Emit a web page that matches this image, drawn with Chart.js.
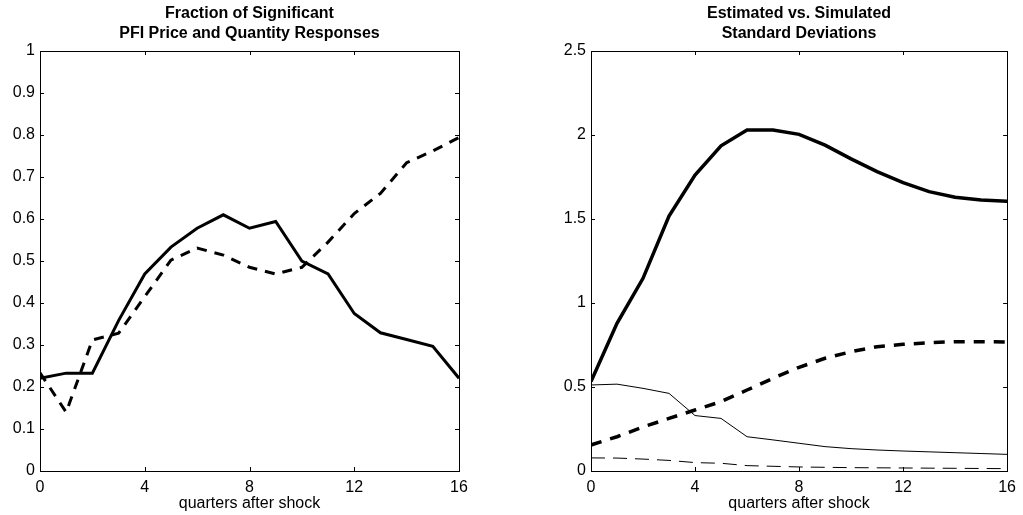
<!DOCTYPE html>
<html>
<head>
<meta charset="utf-8">
<script src="https://cdn.jsdelivr.net/npm/chart.js@4/dist/chart.umd.min.js"></script>
<style>
  html, body { margin: 0; padding: 0; background: #fff; }
  .panel { position: absolute; top: 0; height: 515px; }
  #left-panel { left: 0; width: 511px; }
  #right-panel { left: 511px; width: 512px; }
</style>
</head>
<body>
<div class="panel" id="left-panel"><canvas id="frac-chart" width="511" height="515"></canvas></div>
<div class="panel" id="right-panel"><canvas id="std-chart" width="512" height="515"></canvas></div>
<script>
// quarters after shock (x axis for both panels)
const QUARTERS = [0, 1, 2, 3, 4, 5, 6, 7, 8, 9, 10, 11, 12, 13, 14, 15, 16];
const X_TICKS = [0, 4, 8, 12, 16];

// left panel: fraction of significant responses
const FRAC_SOLID = [0.221, 0.233, 0.233, 0.358, 0.469, 0.533, 0.578, 0.610, 0.578, 0.594,
  0.500, 0.469, 0.375, 0.329, 0.313, 0.297, 0.221];
const FRAC_DASHED = [0.234, 0.140, 0.312, 0.328, 0.415, 0.502, 0.531, 0.514, 0.485, 0.469,
  0.485, 0.545, 0.613, 0.661, 0.734, 0.762, 0.794];
const LEFT_Y_TICKS = [0, 0.1, 0.2, 0.3, 0.4, 0.5, 0.6, 0.7, 0.8, 0.9, 1];

// right panel: estimated vs simulated standard deviations
const STD_THICK_SOLID = [0.532, 0.879, 1.147, 1.518, 1.762, 1.936, 2.030, 2.030, 2.004, 1.940,
  1.858, 1.782, 1.716, 1.663, 1.629, 1.613, 1.605];
const STD_THICK_DASHED = [0.155, 0.204, 0.262, 0.313, 0.363, 0.413, 0.482, 0.552, 0.617, 0.671,
  0.710, 0.740, 0.754, 0.764, 0.770, 0.770, 0.768];
const STD_THIN_SOLID = [0.512, 0.517, 0.492, 0.462, 0.330, 0.313, 0.204, 0.185, 0.165, 0.145,
  0.133, 0.125, 0.119, 0.114, 0.109, 0.104, 0.099];
const STD_THIN_DASHED = [0.078, 0.077, 0.071, 0.063, 0.050, 0.046, 0.032, 0.028, 0.024, 0.022,
  0.020, 0.019, 0.018, 0.017, 0.016, 0.015, 0.014];
const RIGHT_Y_TICKS = [0, 0.5, 1, 1.5, 2, 2.5];

Chart.defaults.font.family = '"Liberation Sans", Arial, Helvetica, sans-serif';
Chart.defaults.color = '#000';

function points(values) {
  return QUARTERS.map((q, i) => ({ x: q, y: values[i] }));
}

function line(values, width, dash) {
  return {
    data: points(values),
    borderColor: '#000',
    borderWidth: width,
    borderDash: dash,
    pointRadius: 0,
    tension: 0,
    fill: false,
  };
}

// box around the plot with short inward tick marks on all four sides
const boxPlugin = {
  id: 'matlabBox',
  afterDraw(chart) {
    const { ctx, chartArea: a, scales } = chart;
    const len = 4;
    ctx.save();
    ctx.strokeStyle = '#000';
    ctx.lineWidth = 1;
    ctx.beginPath();
    scales.x.ticks.forEach(t => {
      const px = Math.round(scales.x.getPixelForValue(t.value)) + 0.5;
      ctx.moveTo(px, a.bottom); ctx.lineTo(px, a.bottom - len);
      ctx.moveTo(px, a.top); ctx.lineTo(px, a.top + len);
    });
    scales.y.ticks.forEach(t => {
      const py = Math.round(scales.y.getPixelForValue(t.value)) + 0.5;
      ctx.moveTo(a.left, py); ctx.lineTo(a.left + len, py);
      ctx.moveTo(a.right, py); ctx.lineTo(a.right - len, py);
    });
    ctx.stroke();
    ctx.strokeRect(Math.round(a.left) + 0.5, Math.round(a.top) + 0.5,
      Math.round(a.right - a.left), Math.round(a.bottom - a.top));
    ctx.restore();
  },
};

function makeChart(canvasId, cfg) {
  const ctx = document.getElementById(canvasId).getContext('2d');
  return new Chart(ctx, {
    type: 'line',
    data: { datasets: cfg.datasets },
    options: {
      responsive: false,
      animation: false,
      devicePixelRatio: 1,
      events: [],
      layout: { padding: { left: 0, top: 0, right: cfg.rightPad, bottom: 0 } },
      plugins: {
        legend: { display: false },
        tooltip: { enabled: false },
        title: {
          display: true,
          fullSize: false,
          text: cfg.title,
          font: { size: 16, weight: 'bold', lineHeight: 1.25 },
          padding: { top: 4, bottom: 7 },
        },
      },
      scales: {
        x: {
          type: 'linear',
          min: 0,
          max: 16,
          afterBuildTicks: s => { s.ticks = X_TICKS.map(v => ({ value: v })); },
          afterFit: s => { s.height = 44; },
          grid: { display: false, drawTicks: false },
          border: { display: false },
          ticks: { font: { size: 16 }, padding: 7, maxRotation: 0 },
          title: { display: true, text: 'quarters after shock', font: { size: 16 }, padding: { top: 0, bottom: 2 } },
        },
        y: {
          min: cfg.yTicks[0],
          max: cfg.yTicks[cfg.yTicks.length - 1],
          afterBuildTicks: s => { s.ticks = cfg.yTicks.map(v => ({ value: v })); },
          afterFit: s => { s.width = cfg.leftWidth; },
          grid: { display: false, drawTicks: false },
          border: { display: false },
          ticks: { font: { size: 16 }, padding: 5, callback: v => String(v) },
        },
      },
    },
    plugins: [boxPlugin],
  });
}

makeChart('frac-chart', {
  title: ['Fraction of Significant', 'PFI Price and Quantity Responses'],
  yTicks: LEFT_Y_TICKS,
  leftWidth: 40,
  rightPad: 52,
  datasets: [
    line(FRAC_SOLID, 3, []),
    line(FRAC_DASHED, 3, [10, 8]),
  ],
});

makeChart('std-chart', {
  title: ['Estimated vs. Simulated', 'Standard Deviations'],
  yTicks: RIGHT_Y_TICKS,
  leftWidth: 80,
  rightPad: 14,
  datasets: [
    line(STD_THIN_DASHED, 1, [14, 8]),
    line(STD_THIN_SOLID, 1, []),
    line(STD_THICK_DASHED, 3.5, [11, 9]),
    line(STD_THICK_SOLID, 3.5, []),
  ],
});
</script>
</body>
</html>
